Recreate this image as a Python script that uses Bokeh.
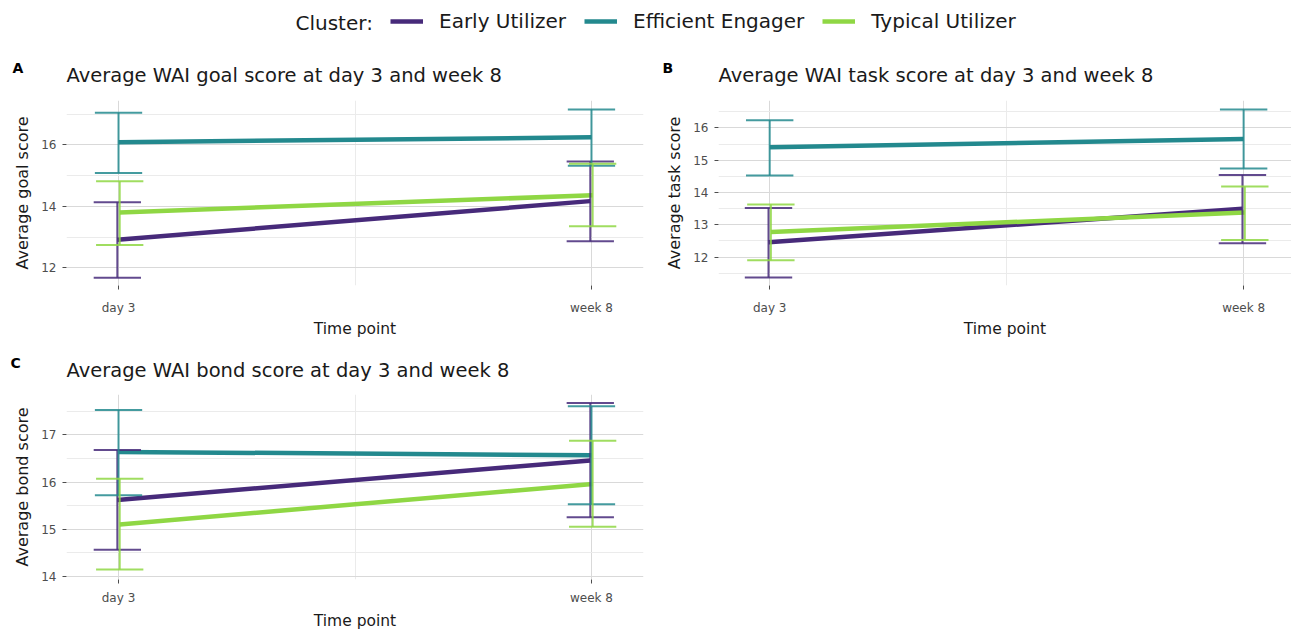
from bokeh.plotting import figure
from bokeh.layouts import column, row, Spacer
from bokeh.models import Range1d, FixedTicker, Label, Legend, LegendItem
from bokeh.embed import file_html
from bokeh.resources import INLINE

# ---------------- data ----------------
timepoints = ["day 3", "week 8"]
clusters = ["Early Utilizer", "Efficient Engager", "Typical Utilizer"]
colors = ["#472a7a", "#23898e", "#8fd744"]

# order of inner lists follows `clusters`
goal_mean = [[12.91, 14.17], [16.09, 16.25], [13.80, 14.36]]
goal_lower = [[11.67, 12.86], [15.09, 15.32], [12.74, 13.35]]
goal_upper = [[14.13, 15.46], [17.05, 17.16], [14.82, 15.39]]

task_mean = [[12.46, 13.50], [15.40, 15.66], [12.78, 13.38]]
task_lower = [[11.37, 12.43], [14.53, 14.74], [11.90, 12.53]]
task_upper = [[13.52, 14.54], [16.24, 16.57], [13.63, 14.19]]

bond_mean = [[15.62, 16.46], [16.64, 16.57], [15.10, 15.96]]
bond_lower = [[14.56, 15.25], [15.72, 15.53], [14.14, 15.05]]
bond_upper = [[16.68, 17.68], [17.53, 17.61], [16.07, 16.88]]

panel_letters = ["A", "B", "C"]
panel_titles = ["Average WAI goal score at day 3 and week 8",
                "Average WAI task score at day 3 and week 8",
                "Average WAI bond score at day 3 and week 8"]
y_labels = ["Average goal score", "Average task score", "Average bond score"]

FONT = "DejaVu Sans"
DODGE = [-0.0025, 0.0, 0.0025]
CAP = 0.05
TITLE_SIZE = "19.5px"


def make_panel(ylab, means, lows, highs, xr, yr, yticks, yminor,
               width, height, bl, br, bb, tick_standoff, label_standoff):
    p = figure(width=width, height=height, x_range=Range1d(*xr), y_range=Range1d(*yr),
               output_backend="svg", toolbar_location=None,
               min_border_left=bl, min_border_right=br, min_border_top=0,
               min_border_bottom=bb)
    p.outline_line_color = None
    p.xaxis.ticker = FixedTicker(ticks=list(range(len(timepoints))), minor_ticks=[0.5])
    p.xaxis.major_label_overrides = {i: t for i, t in enumerate(timepoints)}
    p.yaxis.ticker = FixedTicker(ticks=yticks, minor_ticks=yminor)
    p.xaxis.axis_label = "Time point"
    p.yaxis.axis_label = ylab
    for ax in (p.xaxis, p.yaxis):
        ax.axis_line_color = None
        ax.major_tick_line_color = "#4d4d4d"
        ax.major_tick_out = 4
        ax.major_tick_in = 0
        ax.minor_tick_out = 0
        ax.minor_tick_in = 0
        ax.major_label_text_font = FONT
        ax.major_label_text_font_size = "12px"
        ax.major_label_text_color = "#4d4d4d"
        ax.axis_label_text_font = FONT
        ax.axis_label_text_font_style = "normal"
        ax.axis_label_text_color = "#1a1a1a"
    p.xaxis.axis_label_text_font_size = "15.5px"
    p.yaxis.axis_label_text_font_size = "16px"
    p.xaxis.major_label_standoff = tick_standoff
    p.xaxis.axis_label_standoff = label_standoff
    p.yaxis.major_label_standoff = 6
    p.yaxis.axis_label_standoff = 6

    for g in (p.xgrid, p.ygrid):
        g.grid_line_color = "#d9d9d9"
        g.grid_line_width = 1
        g.minor_grid_line_color = "#ebebeb"
        g.minor_grid_line_width = 1

    for k in range(len(clusters)):
        xs = [i + DODGE[k] for i in range(len(timepoints))]
        p.line(xs, means[k], line_color=colors[k], line_width=4.5)
    for k in range(len(clusters)):
        xs = [i + DODGE[k] for i in range(len(timepoints))]
        p.segment(x0=xs, y0=lows[k], x1=xs, y1=highs[k], line_color=colors[k],
                  line_width=2, line_alpha=0.85)
        p.segment(x0=[x - CAP for x in xs], y0=highs[k], x1=[x + CAP for x in xs],
                  y1=highs[k], line_color=colors[k], line_width=2, line_alpha=0.85)
        p.segment(x0=[x - CAP for x in xs], y0=lows[k], x1=[x + CAP for x in xs],
                  y1=lows[k], line_color=colors[k], line_width=2, line_alpha=0.85)
    return p


def strip(width, height):
    s = figure(width=width, height=height, x_range=Range1d(0, width),
               y_range=Range1d(0, height), output_backend="svg",
               toolbar_location=None, min_border=0)
    s.axis.visible = False
    s.grid.visible = False
    s.outline_line_color = None
    return s


def txt(fig, x, y, text, size, bold=False, color="#1a1a1a"):
    fig.add_layout(Label(x=x, y=y, text=text, text_font=FONT, text_font_size=size,
                         text_font_style="bold" if bold else "normal",
                         text_color=color, text_align="left",
                         text_baseline="middle"))


W = 1291

# ---- top strip: legend + titles of A and B ----
top = strip(W, 100)
rends = [top.line([float("nan")], [float("nan")], line_color=c, line_width=4.5) for c in colors]
legend = Legend(items=[LegendItem(label=cl, renderers=[r]) for cl, r in zip(clusters, rends)],
                orientation="horizontal", location=(390, 67), padding=0, margin=0,
                border_line_color=None, background_fill_alpha=0,
                label_text_font=FONT, label_text_font_size="20px", label_text_color="#1a1a1a",
                glyph_width=33, glyph_height=20, label_standoff=16, spacing=18)
top.add_layout(legend)
txt(top, 295, 78, "Cluster:", "20px")
txt(top, 12, 33, panel_letters[0], "14px", bold=True, color="#000000")
txt(top, 66, 25, panel_titles[0], TITLE_SIZE)
txt(top, 662, 33, panel_letters[1], "14px", bold=True, color="#000000")
txt(top, 718, 25, panel_titles[1], TITLE_SIZE)

pA = make_panel(y_labels[0], goal_mean, goal_lower, goal_upper, (-0.11, 1.11), (11.42, 17.45),
                [12, 14, 16], [11, 13, 15, 17], 645, 240, 66, 2, 53, 11, 2)
pB = make_panel(y_labels[1], task_mean, task_lower, task_upper, (-0.108, 1.101), (11.12, 16.85),
                [12, 13, 14, 15, 16], [11.5, 12.5, 13.5, 14.5, 15.5, 16.5],
                646, 240, 73, 0, 53, 11, 2)

# ---- middle strip: title of C ----
mid = strip(W, 54)
txt(mid, 10, 32, panel_letters[2], "14px", bold=True, color="#000000")
txt(mid, 66, 24, panel_titles[2], TITLE_SIZE)

pC = make_panel(y_labels[2], bond_mean, bond_lower, bond_upper, (-0.11, 1.11), (13.93, 17.86),
                [14, 15, 16, 17], [14.5, 15.5, 16.5, 17.5], 645, 238, 66, 2, 48, 7, 4)

layout = column(top, row(pA, pB), mid, row(pC, Spacer(width=646, height=238)))
open("out.html", "w").write(file_html(layout, INLINE))
